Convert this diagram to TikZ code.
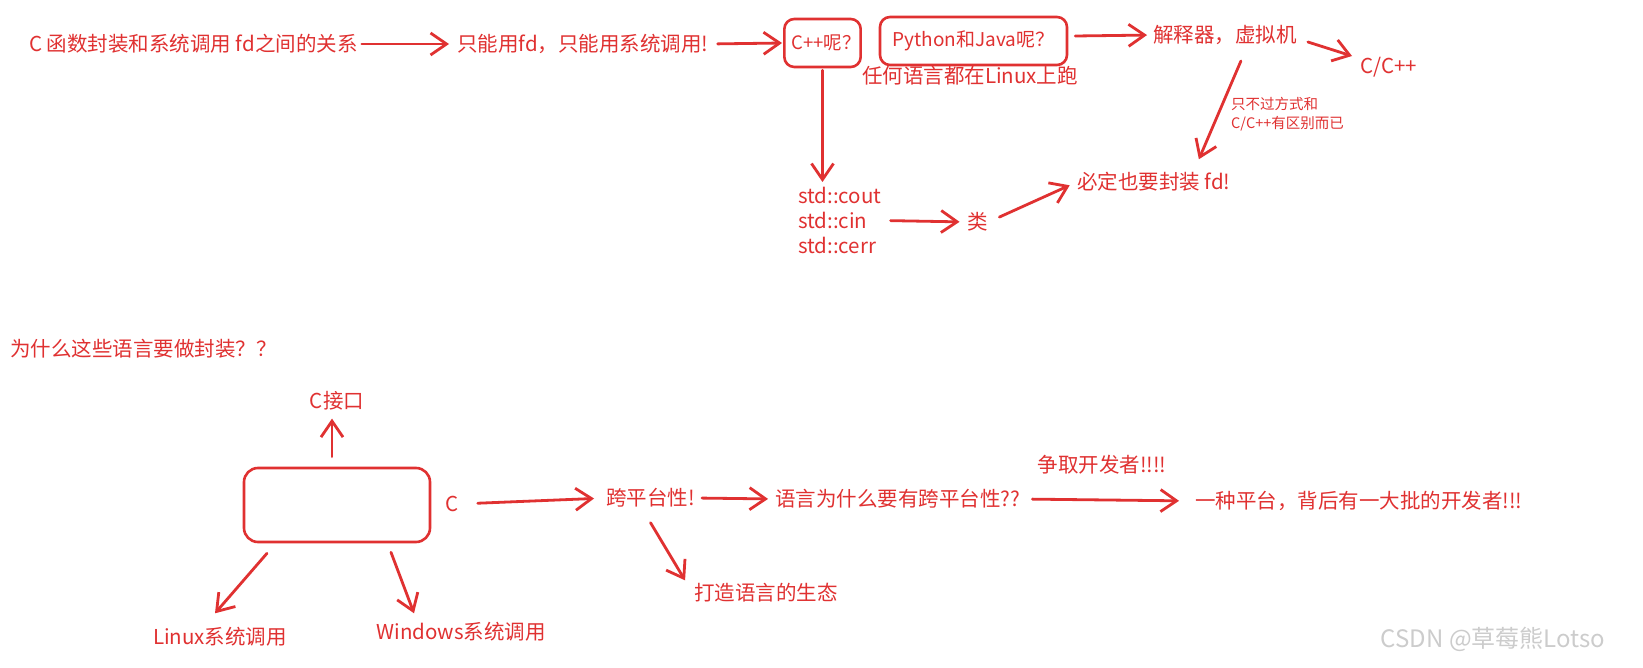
\documentclass[tikz,border=0pt]{standalone}
\usepackage{fontspec}
\setmainfont{Noto Sans CJK SC}
\usetikzlibrary{arrows.meta}
\definecolor{exred}{HTML}{E03131}
\begin{document}
\begin{tikzpicture}[x=1pt,y=-1pt,
  txt/.style={text=exred, inner sep=0pt, font=\fontsize{20.5}{25}\selectfont},
  small/.style={text=exred, inner sep=0pt, font=\fontsize{14.5}{19}\selectfont, align=left},
  arr/.style={draw=exred, line width=2.8pt, line cap=round, line join=round, -{Straight Barb[length=16pt,width=22pt]}},
  rbox/.style={draw=exred, line width=2.6pt, rounded corners=10pt, inner sep=0pt, text=exred, font=\fontsize{19}{25}\selectfont}]
\fill[white] (0,0) rectangle (1643,668);
\useasboundingbox (0,0) rectangle (1643,668);
% top part
\node[txt, anchor=west] (n1) at (29,44) {C 函数封装和系统调用 fd之间的关系};
\node[txt, anchor=west] (n2) at (457,44) {只能用fd，只能用系统调用!};
\node[rbox, minimum width=69pt, minimum height=48pt, font=\fontsize{18.5}{22}\selectfont] (cpp) at (822.5,43) {\kern7pt C++呢？};
\node[rbox, minimum width=187pt, minimum height=48pt] (py) at (973.5,41) {Python和Java呢？};
\node[txt] (any) at (970,76) {任何语言都在Linux上跑};
\node[txt, anchor=west] (jsq) at (1153,35) {解释器，虚拟机};
\node[txt, anchor=west] (cc) at (1360,67) {C/C++};
\node[small, anchor=west] (diff) at (1231,114) {只不过方式和\\C/C++有区别而已};
\node[txt, anchor=west] (bd) at (1077,182) {必定也要封装 fd!};
\node[txt, anchor=north west, align=left] (std) at (798,187) {std::cout\\std::cin\\std::cerr};
\node[txt] (lei) at (978,222) {类};
\draw[arr, shorten <=4pt, shorten >=8pt] (n1.east) -- (n2.west);
\draw[arr, shorten <=9pt, shorten >=1pt] (n2.east) -- (cpp.west);
\draw[arr, shorten >=6pt] ([shift={(7,-5)}]py.east) -- (jsq.west);
\draw[arr] ([shift={(11,7)}]jsq.east) -- ([shift={(-8,-11)}]cc.west);
\coordinate (bdtip) at ([shift={(45,-13)}]bd.north);
\draw[arr] ([shift={(-56,26)}]jsq.east) -- (bdtip);
\draw[arr, shorten <=2pt, shorten >=5pt] (cpp.south) -- (cpp.south |- std.north);
\draw[arr, shorten <=9pt, shorten >=8pt] (std.east) -- (lei.west);
\draw[arr, shorten <=12pt, shorten >=8pt] (lei.east) -- (bd.west);
% bottom part
\node[txt, anchor=west] (q) at (10,349) {为什么这些语言要做封装？？};
\node[draw=exred, line width=2.6pt, rounded corners=14pt, minimum width=186pt, minimum height=74pt, inner sep=0pt] (box) at (337,505) {};
\node[txt] (cj) at (337,401) {C接口};
\node[txt] (c) at (452,504) {C};
\node[txt, anchor=west] (kpt) at (606,498) {跨平台性!};
\node[txt, anchor=west] (yy) at (775,499) {语言为什么要有跨平台性??};
\node[txt] (zq) at (1102,465) {争取开发者!!!!};
\node[txt, anchor=west] (yz) at (1195,501) {一种平台，背后有一大批的开发者!!!};
\node[txt] (dz) at (766,593) {打造语言的生态};
\node[txt] (lx) at (220,637) {Linux系统调用};
\node[txt] (win) at (461,632) {Windows系统调用};
\node[text=gray!40, inner sep=0pt, font=\fontsize{24}{28}\selectfont] (wm) at (1493,639) {CSDN @草莓熊Lotso};
\draw[arr] ([shift={(-5,-10)}]box.north) -- ([shift={(-5,8)}]cj.south);
\draw[arr, shorten <=19pt, shorten >=12pt] (c.east) -- (kpt.west);
\draw[arr, shorten <=7pt, shorten >=7pt] (kpt.east) -- (yy.west);
\draw[arr, shorten <=12pt, shorten >=16pt] (yy.east) -- (yz.west);
\draw[arr] ([shift={(0,15)}]kpt.south) -- ([shift={(-9,-3)}]dz.north west);
\draw[arr] ([shift={(-70,10)}]box.south) -- ([shift={(-5,-14)}]lx.north);
\draw[arr] ([shift={(54,9)}]box.south) -- ([shift={(-47,-9)}]win.north);
\end{tikzpicture}
\end{document}
